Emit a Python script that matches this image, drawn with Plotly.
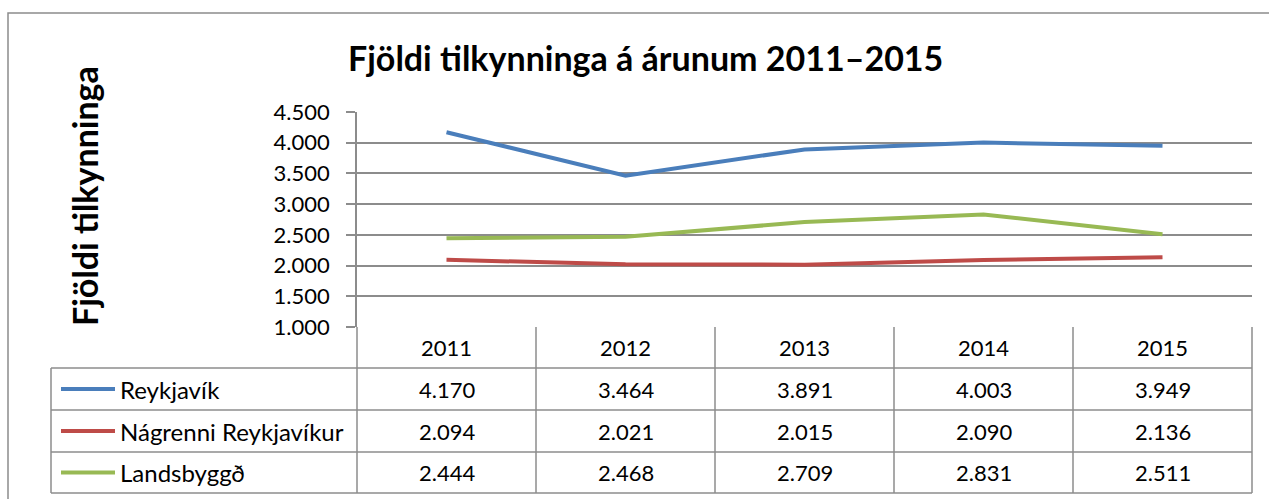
import plotly.graph_objects as go

years = ["2011", "2012", "2013", "2014", "2015"]
series_names = ["Reykjavík", "Nágrenni Reykjavíkur", "Landsbyggð"]
reykjavik = [4170, 3464, 3891, 4003, 3949]
nagrenni = [2094, 2021, 2015, 2090, 2136]
landsbyggd = [2444, 2468, 2709, 2831, 2511]
y_ticks = [1000, 1500, 2000, 2500, 3000, 3500, 4000, 4500]
colors = ["#4A7EBB", "#BE4B48", "#98B954"]
title_text = "Fjöldi tilkynninga á árunum 2011–2015"
y_title = "Fjöldi tilkynninga"

W, H = 1269, 499
L, R, T, B = 357, 1252, 112, 327
PW, PH = R - L, B - T

def px(x):
    return (x - L) / PW

def py(y):
    return (B - y) / PH

FONT = "Lato"
GRID = "#8C8C8C"
NUM_SIZE = 22
LBL_SIZE = 24

fig = go.Figure()
all_series = [reykjavik, nagrenni, landsbyggd]
for name, vals, c in zip(series_names, all_series, colors):
    fig.add_trace(go.Scatter(x=list(range(len(years))), y=vals, mode="lines", name=name,
                             line=dict(color=c, width=4), showlegend=False))

shapes = []
def hline(y, x0, x1):
    shapes.append(dict(type="line", xref="paper", yref="paper", x0=px(x0), x1=px(x1),
                       y0=py(y), y1=py(y), line=dict(color=GRID, width=1.5)))
def vline(x, y0, y1):
    shapes.append(dict(type="line", xref="paper", yref="paper", x0=px(x), x1=px(x),
                       y0=py(y0), y1=py(y1), line=dict(color=GRID, width=1.5)))

row_edges = [327, 368, 410, 452, 493]
col_w = PW / len(years)
vline(L, 327, 493)
for i in range(1, len(years)):
    vline(L + i * col_w, 327, 493)
vline(R, 327, 493)
vline(51, 368, 493)
for y in row_edges[1:]:
    hline(y, 51, R)
# outer chart border
shapes.append(dict(type="rect", xref="paper", yref="paper", x0=px(8), x1=px(1290),
                   y0=py(13), y1=py(520), line=dict(color=GRID, width=1.5)))

annotations = []
annotations.append(dict(text=title_text, xref="paper", yref="paper", x=px(645), y=py(57),
                        showarrow=False, font=dict(family=FONT, size=34, color="black", weight="bold"),
                        xanchor="center", yanchor="middle"))
annotations.append(dict(text=y_title, xref="paper", yref="paper", x=px(84), y=py(196),
                        showarrow=False, textangle=-90,
                        font=dict(family=FONT, size=34, color="black", weight="bold"),
                        xanchor="center", yanchor="middle"))
row_centers = [(row_edges[i] + row_edges[i + 1]) / 2 for i in range(4)]
for i, yr in enumerate(years):
    annotations.append(dict(text=yr, xref="x", yref="paper", x=i, y=py(row_centers[0]),
                            showarrow=False, font=dict(family=FONT, size=NUM_SIZE, color="black"),
                            xanchor="center", yanchor="middle"))
for r, (name, vals, c) in enumerate(zip(series_names, all_series, colors)):
    yc = row_centers[r + 1]
    shapes.append(dict(type="line", xref="paper", yref="paper", x0=px(61), x1=px(115),
                       y0=py(yc), y1=py(yc), line=dict(color=c, width=4)))
    annotations.append(dict(text=name, xref="paper", yref="paper", x=px(118), y=py(yc),
                            showarrow=False, font=dict(family=FONT, size=LBL_SIZE, color="black"),
                            xanchor="left", yanchor="middle"))
    for i, v in enumerate(vals):
        annotations.append(dict(text=f"{v:,}".replace(",", "."), xref="x", yref="paper",
                                x=i, y=py(yc), showarrow=False,
                                font=dict(family=FONT, size=NUM_SIZE, color="black"),
                                xanchor="center", yanchor="middle"))

fig.update_layout(
    width=W, height=H, autosize=False,
    margin=dict(l=L, r=W - R, t=T, b=H - B, pad=0),
    paper_bgcolor="white", plot_bgcolor="white",
    separators=",.",
    font=dict(family=FONT, color="black"),
    shapes=shapes, annotations=annotations,
    xaxis=dict(range=[-0.5, len(years) - 0.5], showgrid=False, zeroline=False,
               showticklabels=False, ticks="", showline=False, fixedrange=True),
    yaxis=dict(range=[1000, 4500], tickvals=y_ticks, tickformat=",d",
               showgrid=True, gridcolor=GRID, gridwidth=1.5, zeroline=False,
               showline=True, linecolor=GRID, linewidth=1.5,
               ticks="outside", ticklen=9, tickcolor=GRID, tickwidth=1.5,
               tickfont=dict(family=FONT, size=NUM_SIZE, color="black"), ticklabelstandoff=12),
)
fig.write_html("out.html", config={"displayModeBar": False},
               post_script="document.body.style.margin='0';document.body.style.overflow='hidden';")
